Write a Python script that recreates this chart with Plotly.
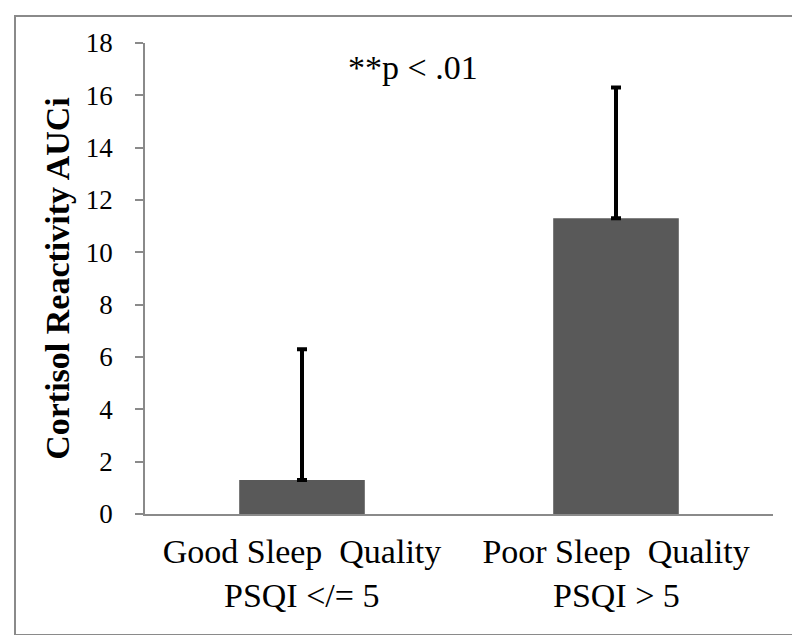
import plotly.graph_objects as go

categories = ["Good Sleep  Quality", "Poor Sleep  Quality"]
psqi_labels = ["PSQI </= 5", "PSQI > 5"]
values = [1.3, 11.3]
errors_up = [5.0, 5.0]
yticks = [0, 2, 4, 6, 8, 10, 12, 14, 16, 18]

SERIF = "Liberation Serif, Times New Roman, serif"
W, H = 800, 635
L, R, T, B = 137, 35, 35, 129
pw, ph = W - L - R, H - T - B

fig = go.Figure()
fig.add_trace(go.Bar(
    x=categories, y=values, width=0.4,
    marker=dict(color="#595959", line=dict(width=0)),
    error_y=dict(type="data", symmetric=False, array=errors_up, arrayminus=[0, 0],
                 color="black", thickness=4, width=5),
))

def px2paper_x(px):
    return (px - L) / pw

def px2paper_y(py):
    return 1 - (py - T) / ph

fig.add_shape(type="rect", xref="paper", yref="paper",
              x0=px2paper_x(7), x1=px2paper_x(793), y0=px2paper_y(627), y1=px2paper_y(8),
              line=dict(color="#8a8a8a", width=2), layer="below")

fig.add_annotation(text="**p < .01", xref="paper", yref="paper",
                   x=px2paper_x(405), y=px2paper_y(60), xanchor="center", yanchor="middle",
                   showarrow=False, font=dict(family=SERIF, size=34, color="black"))

for cat, lab in zip(categories, psqi_labels):
    fig.add_annotation(text=lab, xref="x", yref="paper", x=cat, y=px2paper_y(587),
                       xanchor="center", yanchor="middle",
                       showarrow=False, font=dict(family=SERIF, size=34, color="black"))

fig.update_layout(
    width=W, height=H, margin=dict(l=L, r=R, t=T, b=B, pad=0),
    paper_bgcolor="white", plot_bgcolor="white", showlegend=False,
    font=dict(family=SERIF, color="black"),
    bargap=0.6,
)
fig.update_xaxes(showline=True, linecolor="#8a8a8a", linewidth=1.5, ticks="", showgrid=False,
                 tickfont=dict(size=34, family=SERIF, color="black"),
                 ticklabelstandoff=6)
fig.update_yaxes(range=[0, 18], tickvals=yticks, showline=True, linecolor="#8a8a8a", linewidth=1.5,
                 ticks="outside", ticklen=8, tickcolor="#8a8a8a", tickwidth=1.5, showgrid=False,
                 zeroline=False,
                 tickfont=dict(size=27, family=SERIF, color="black"),
                 ticklabelstandoff=17,
                 title=dict(text="<b>Cortisol Reactivity AUCi</b>", standoff=6,
                            font=dict(size=34, family=SERIF, color="black")))

fig.write_html("out.html")
